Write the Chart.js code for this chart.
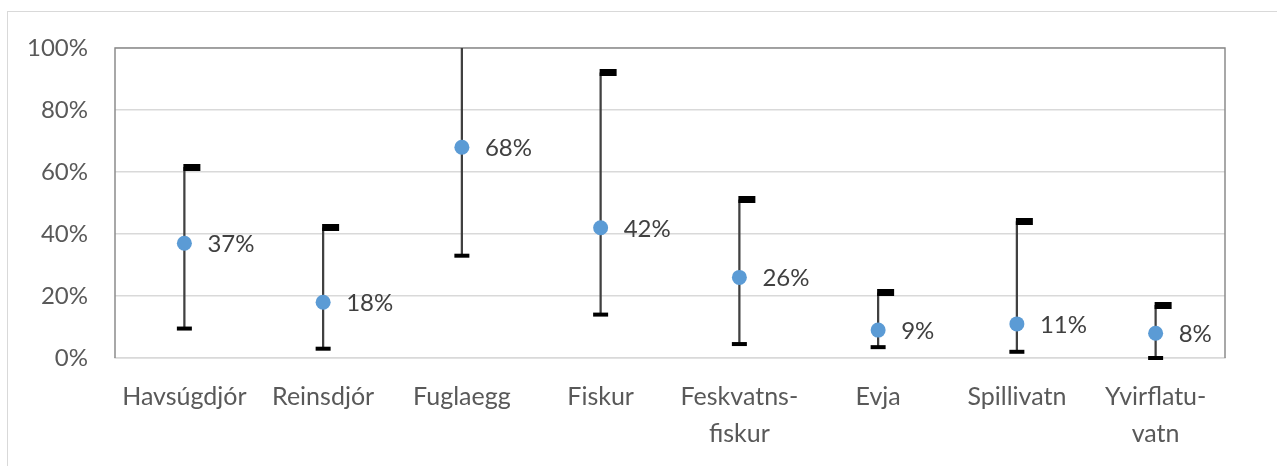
<!DOCTYPE html>
<html>
<head>
<meta charset="utf-8">
<script src="https://cdn.jsdelivr.net/npm/chart.js@4"></script>
<style>
  html, body { margin: 0; padding: 0; background: #fff; overflow: hidden; }
  #frame { position: absolute; left: 7px; top: 11px; width: 1400px; height: 600px;
           border-top: 1.5px solid #d9d9d9; border-left: 1.5px solid #d9d9d9; }
  #wrap { position: absolute; left: 0; top: 0; width: 1277px; height: 466px; }
</style>
</head>
<body>
<div id="frame"></div>
<div id="wrap"><canvas id="chart"></canvas></div>
<script>
const categories = ['Havsúgdjór', 'Reinsdjór', 'Fuglaegg', 'Fiskur', ['Feskvatns-', 'fiskur'], 'Evja', 'Spillivatn', ['Yvirflatu-', 'vatn']];
const middle = [37, 18, 68, 42, 26, 9, 11, 8];
const upper = [61.5, 42, 105, 92, 51, 21, 44, 17];
const lower = [9.5, 3, 33, 14, 4.5, 3.5, 2, 0];
const yTicks = [0, 20, 40, 60, 80, 100];

const FONT = 'Lato, "Open Sans", sans-serif';

// flag shaped marker for the upper end, sits to the right of the line
function flagCap() {
  const c = document.createElement('canvas');
  c.width = 34; c.height = 7;
  const g = c.getContext('2d');
  g.fillStyle = '#000';
  g.fillRect(16, 0, 17, 7);
  return c;
}

const frame = {
  id: 'frame',
  beforeDatasetsDraw(chart) {
    const { ctx, chartArea: a } = chart;
    ctx.save();
    ctx.strokeStyle = '#8c8c8c';
    ctx.lineWidth = 1.5;
    ctx.beginPath();
    ctx.moveTo(a.left, a.bottom);
    ctx.lineTo(a.left, a.top);
    ctx.lineTo(a.right, a.top);
    ctx.lineTo(a.right, a.bottom);
    ctx.stroke();
    ctx.restore();
  }
};

const valueLabels = {
  id: 'valueLabels',
  afterDatasetsDraw(chart) {
    const { ctx } = chart;
    const meta = chart.getDatasetMeta(0);
    ctx.save();
    ctx.font = '24px ' + FONT;
    ctx.fillStyle = '#404040';
    ctx.textAlign = 'left';
    ctx.textBaseline = 'middle';
    meta.data.forEach((pt, i) => {
      ctx.fillText(middle[i] + '%', pt.x + 23, pt.y + 1);
    });
    ctx.restore();
  }
};

new Chart(document.getElementById('chart'), {
  data: {
    labels: categories,
    datasets: [
      {
        type: 'line',
        data: middle,
        showLine: false,
        pointRadius: 7.5,
        pointHoverRadius: 7.5,
        pointBackgroundColor: '#5b9bd5',
        pointBorderWidth: 0,
        order: 0
      },
      {
        type: 'line',
        data: upper,
        showLine: false,
        pointStyle: flagCap(),
        clip: 0,
        order: 1
      },
      {
        type: 'line',
        data: lower,
        showLine: false,
        pointStyle: 'line',
        pointRadius: 7.5,
        pointBorderWidth: 4,
        pointBorderColor: '#000',
        clip: false,
        order: 1
      },
      {
        type: 'bar',
        data: lower.map((lo, i) => [lo, upper[i]]),
        backgroundColor: '#404040',
        barThickness: 1.6,
        order: 2
      }
    ]
  },
  options: {
    responsive: true,
    maintainAspectRatio: false,
    animation: false,
    events: [],
    layout: { padding: { left: 0, top: 48, right: 52, bottom: 0 } },
    plugins: { legend: { display: false }, tooltip: { enabled: false } },
    scales: {
      x: {
        grid: { display: false, drawTicks: false },
        border: { color: '#d9d9d9', width: 1.5 },
        afterFit(s) { s.height = 108; },
        ticks: {
          autoSkip: false,
          maxRotation: 0,
          padding: 20,
          color: '#595959',
          font: { family: FONT, size: 25, lineHeight: 1.48 }
        }
      },
      y: {
        min: 0,
        max: 100,
        afterFit(s) { s.width = 115; },
        afterBuildTicks(s) { s.ticks = yTicks.map(v => ({ value: v })); },
        grid: { color: '#d9d9d9', lineWidth: 1.5, drawTicks: false },
        border: { display: false },
        ticks: {
          padding: 27,
          color: '#595959',
          font: { family: FONT, size: 24 },
          callback: v => v + '%'
        }
      }
    }
  },
  plugins: [frame, valueLabels]
});
</script>
</body>
</html>
